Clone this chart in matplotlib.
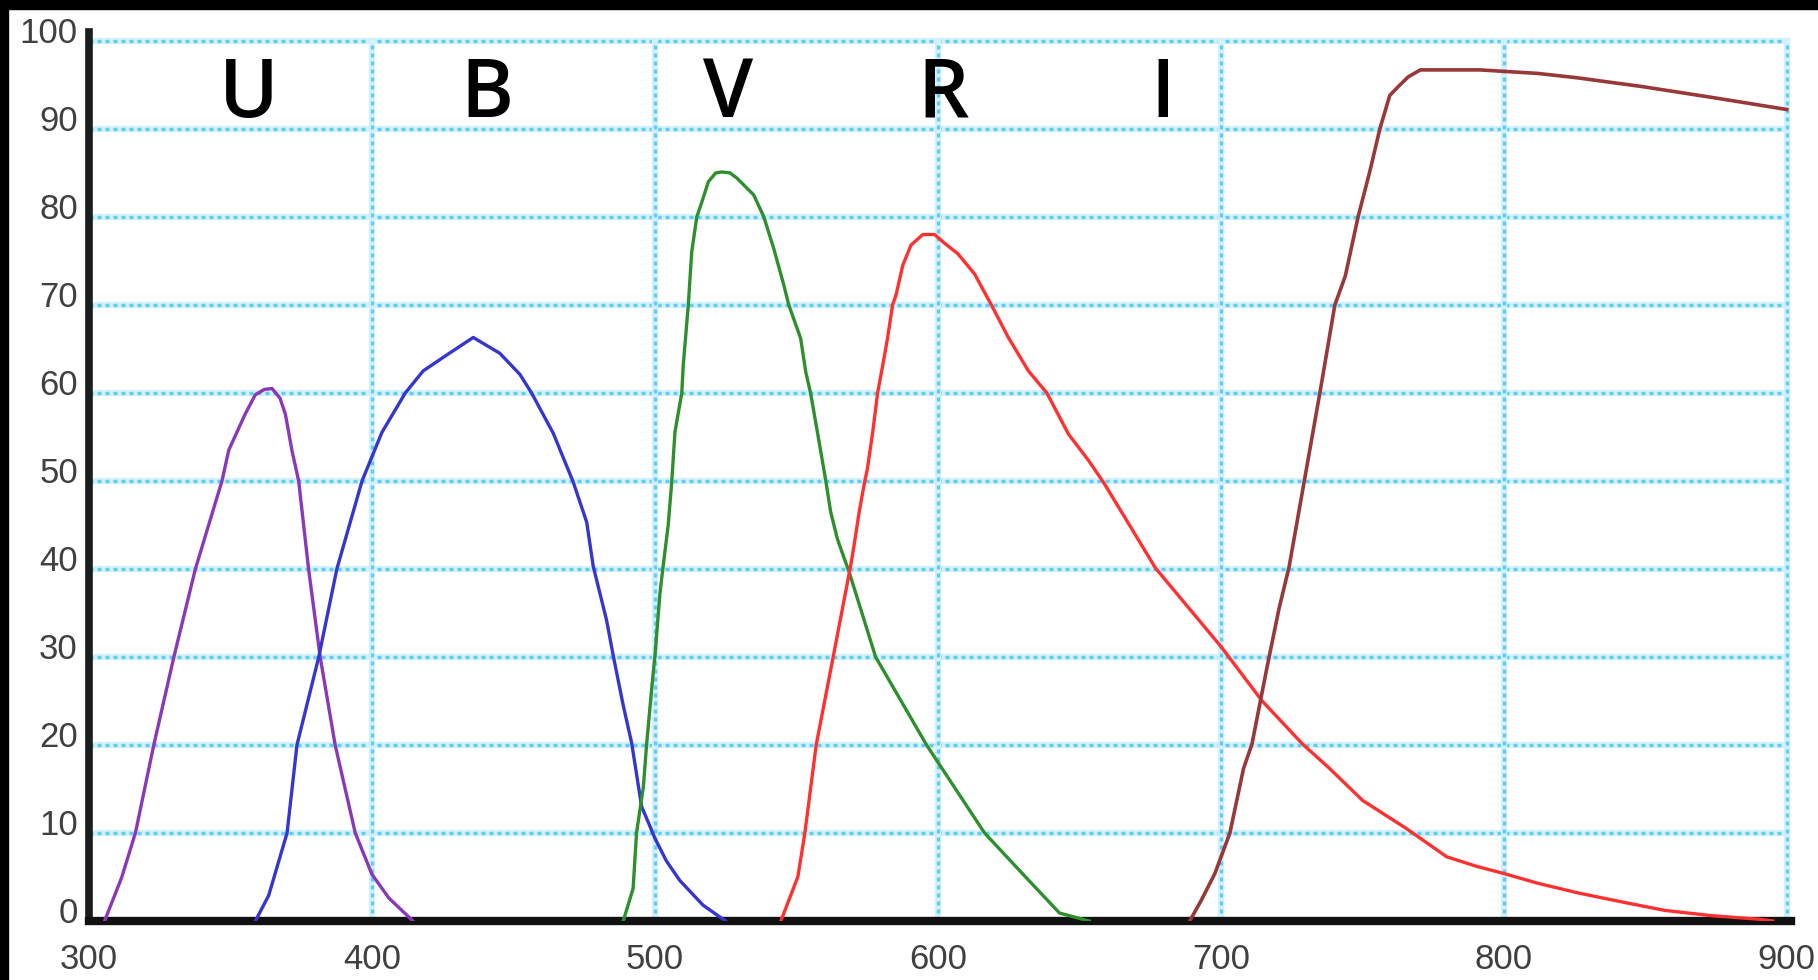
import matplotlib
matplotlib.use("Agg")
import matplotlib.pyplot as plt
from matplotlib.patches import Rectangle
import matplotlib.transforms as mtransforms

# filter transmission curves (wavelength nm, percent)
u_x = [305.5, 311.5, 316.4, 322.9, 330, 337.6, 347, 349.4, 355.2, 358.8, 362, 364.7, 367.5, 369.4, 371.7,
       374.1, 377.6, 381.7, 387, 394.1, 400, 406, 414.5]
u_y = [0, 4.9, 10, 20, 30, 40, 50, 53.5, 57.6, 59.8, 60.4, 60.5, 59.4, 57.6, 53.5,
       50, 40, 30, 20, 10, 5.3, 2.6, 0]

b_x = [358.8, 363.5, 370, 373.5, 381.2, 387.6, 396.5, 403.5, 411.8, 418.1, 426.4, 435.8, 445.2, 452.3,
       456.4, 464.1, 471.1, 475.9, 478.2, 482.9, 485.3, 488.8, 491.8, 495.3, 498.2, 500, 504.1, 508.8,
       517, 525]
b_y = [0, 2.9, 10, 20, 30, 40, 50, 55.5, 60, 62.5, 64.3, 66.3, 64.5, 62.1,
       60, 55.4, 49.9, 45.3, 40.3, 34.2, 30.1, 24.5, 20.2, 13, 10.8, 9.4, 6.8, 4.6,
       1.8, 0]

v_x = [488.8, 492.3, 493.5, 495.9, 497.1, 498.8, 500, 501.8, 502.9, 504.7, 505.9, 507.1, 509.5, 510,
       511.8, 513, 514.8, 516.6, 518.9, 521.5, 523.7, 526.5, 529, 534.9, 538.5, 542, 545.6, 547.3,
       551.5, 553.3, 555, 557.4, 560.4, 562.1, 564.5, 566.9, 568.5, 578, 596, 616.5, 631, 643, 653.5]
v_y = [0, 3.7, 10, 15.2, 20.2, 26.2, 30.1, 37.3, 40.3, 45, 49.7, 55.6, 60, 63.1,
       70, 76, 80, 81.7, 84, 85, 85.1, 85, 84.4, 82.5, 80, 76.4, 72.2, 70,
       66.2, 62.4, 60, 55.6, 50, 46.5, 43.4, 41.2, 39.8, 30, 20, 10, 5, 0.9, 0]

r_x = [544.5, 550.5, 553, 557, 563, 569.2, 570.4, 572.2, 574, 575.1, 577, 578.7, 580.5, 582.2, 584,
       585.2, 587.6, 590.5, 594.7, 598.8, 602.4, 607.1, 613, 618.9, 624.9, 632, 638.5, 646.2, 653.3,
       658.6, 667.5, 676.9, 700, 714.6, 728.9, 738.2, 750.1, 765.6, 779.8, 790.5, 800, 811.9,
       826.1, 842.8, 857, 873.6, 890.3, 895]
r_y = [0, 5, 10, 20, 30, 40.4, 42.7, 46.5, 49.7, 51.4, 55.6, 60, 63.1, 66.2, 70,
       71.1, 74.5, 76.8, 78, 78, 77, 75.8, 73.5, 70, 66.3, 62.5, 60, 55.3, 52.3,
       49.8, 45.1, 40.1, 31.2, 25, 20.1, 17.4, 13.7, 10.5, 7.3, 6.2, 5.4, 4.3,
       3.2, 2.1, 1.2, 0.6, 0.2, 0]

i_x = [689, 693, 697.9, 703.2, 708, 711, 716.3, 720.5, 724.1, 729.5, 735, 740.3, 744, 748.5, 752.6,
       756.2, 759.7, 762.7, 766.2, 770.5, 791.5, 812, 826, 849, 875, 900]
i_y = [0, 2.3, 5.4, 10, 17.3, 20.1, 28.8, 35.4, 40.2, 50, 60, 70, 73.3, 80, 85.1,
       90, 93.8, 94.8, 95.9, 96.7, 96.7, 96.3, 95.8, 94.8, 93.5, 92.2]

band_names = ["U", "B", "V", "R", "I"]
band_pos = [356.5, 440.5, 526, 602, 679.5]

x_ticks = [300, 400, 500, 600, 700, 800, 900]
y_ticks = [0, 10, 20, 30, 40, 50, 60, 70, 80, 90, 100]

fig = plt.figure(figsize=(18.18, 9.8), dpi=100)
ax = fig.add_axes([0.04895, 0.0602, 0.9362, 0.9071])
ax.set_xlim(300, 901.5)
ax.set_ylim(0, 101)

# dotted light blue grid with a soft halo
grid_col = "#62cdf3"
for yv in y_ticks[1:]:
    ax.plot([300, 900], [yv, yv], color="#d2f1fc", lw=4.5, zorder=1)
    ax.plot([300, 900], [yv, yv], color=grid_col, lw=2.4, ls=(0, (1.2, 1.2)), zorder=1)
for xv in x_ticks[1:]:
    ax.plot([xv, xv], [0, 100], color="#d2f1fc", lw=4.5, zorder=1)
    ax.plot([xv, xv], [0, 100], color=grid_col, lw=2.4, ls=(0, (1.2, 1.2)), zorder=1)

ax.plot(u_x, u_y, color="#8a38b8", lw=2.4, zorder=3)
ax.plot(b_x, b_y, color="#3535d2", lw=2.4, zorder=3)
ax.plot(v_x, v_y, color="#2e8f2e", lw=2.4, zorder=3)
ax.plot(r_x, r_y, color="#ff3030", lw=2.4, zorder=3)
ax.plot(i_x, i_y, color="#993838", lw=2.6, zorder=3)

for name, xp in zip(band_names, band_pos):
    ax.text(xp, 91.4, name, ha="center", va="baseline", fontsize=58, fontweight="semibold",
            family="Open Sans", color="black", zorder=4)

for s in ["top", "right"]:
    ax.spines[s].set_visible(False)
ax.spines["left"].set_linewidth(5.5)
ax.spines["left"].set_color("#1c1c1c")
ax.spines["bottom"].set_linewidth(6)
ax.spines["bottom"].set_color("#111111")

ax.set_xticks(x_ticks)
ax.set_yticks(y_ticks)
ax.tick_params(length=0, labelsize=25, labelcolor="#404040")
ax.tick_params(axis="x", pad=16)
ax.tick_params(axis="y", pad=8)
for lab in ax.get_xticklabels() + ax.get_yticklabels():
    lab.set_family("Liberation Sans")
shift = mtransforms.ScaledTranslation(0, 11 / 100, fig.dpi_scale_trans)
for lab in ax.get_yticklabels():
    lab.set_transform(lab.get_transform() + shift)

# black frame strips at top and left of the image
fig.patches.append(Rectangle((0, 1 - 9 / 980), 1, 9 / 980, transform=fig.transFigure,
                             color="black", zorder=10))
fig.patches.append(Rectangle((0, 0), 8 / 1818, 1, transform=fig.transFigure,
                             color="black", zorder=10))

fig.savefig("out.png", dpi=100, facecolor="white")
